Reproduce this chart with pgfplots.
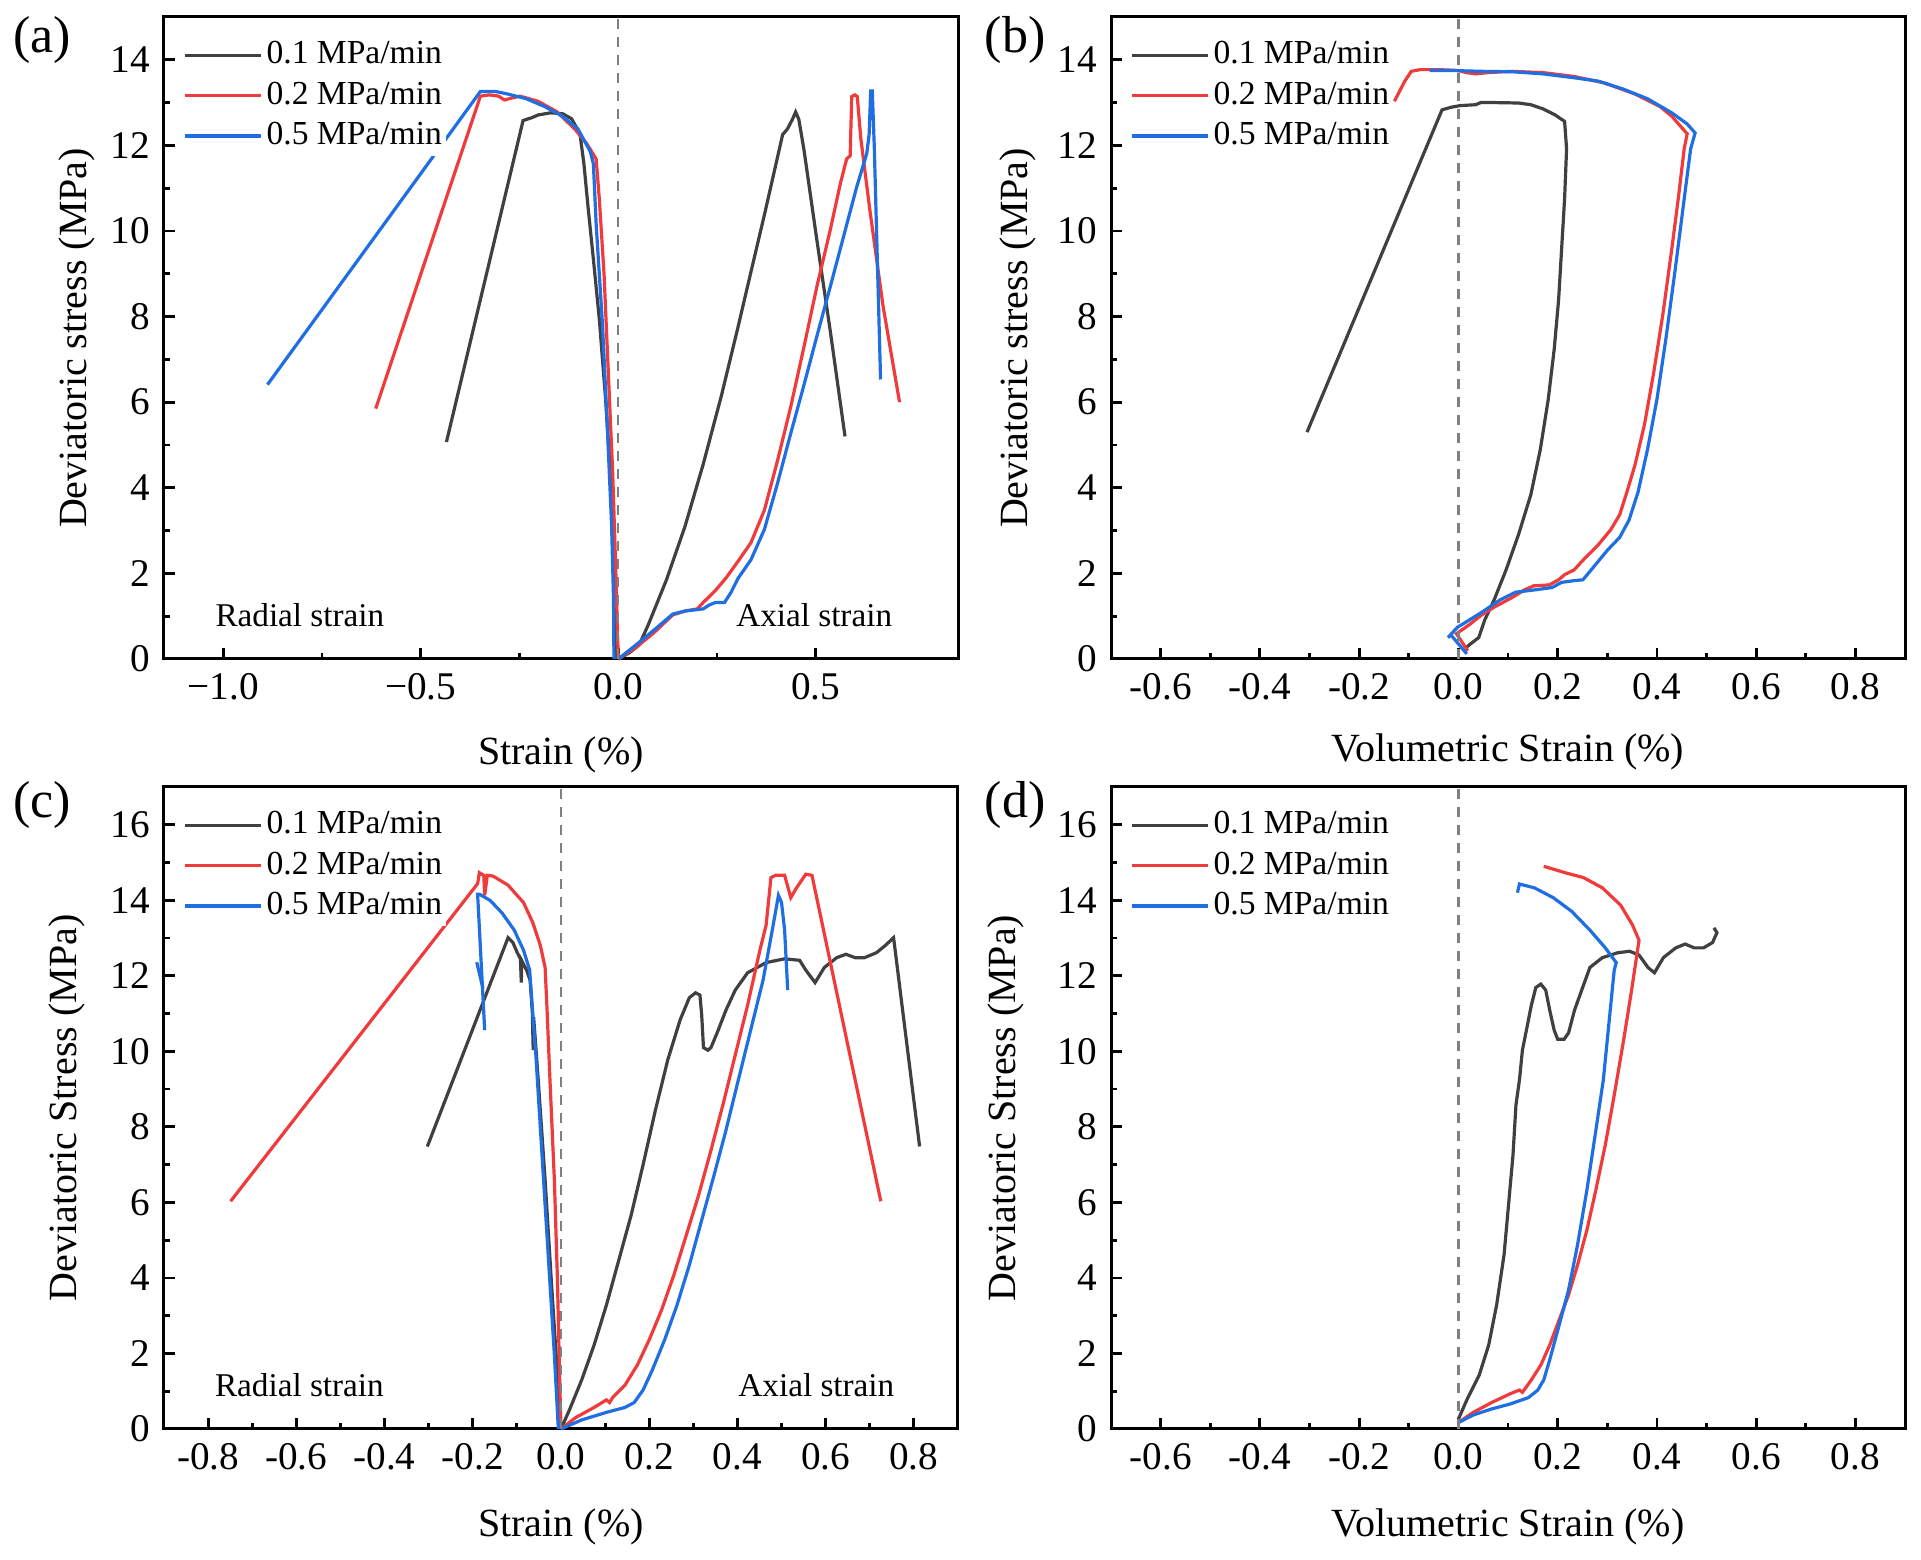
\documentclass[border=0pt]{standalone}
\usepackage{fontspec}
\setmainfont{Liberation Serif}
\usepackage{pgfplots}
\pgfplotsset{compat=1.18}
\definecolor{cblack}{HTML}{404040}
\definecolor{cred}{HTML}{EF3B3B}
\definecolor{cblue}{HTML}{1F6FE3}
\definecolor{cdash}{HTML}{808080}
\pgfplotsset{
 panel/.style={
  scale only axis, width=198.5pt, height=160.5pt, anchor=south west,
  tick pos=left, tick align=inside, major tick length=2.8pt, minor tick length=1.6pt,
  axis line style={line width=0.75pt},
  every tick/.style={black, line width=0.7pt},
  minor x tick num=1, minor y tick num=1,
  ymin=0,
  tick label style={font=\fontsize{9.8}{12}\selectfont},
  label style={font=\fontsize{10.7}{13}\selectfont},
  /pgf/number format/assume math mode=true,
  legend style={draw=none, fill=white, inner sep=0pt, outer sep=0pt,
    font=\fontsize{8.4}{10}\selectfont, at={(axis description cs:0.0244,0.972)}, anchor=north west,
    nodes={inner sep=1pt, text height=6.2pt, text depth=1.9pt}, column sep=0pt, row sep=0pt},
  legend cell align=left,
  legend image code/.code={\draw[#1] (0pt,0pt) -- (19pt,0pt);},
  every axis plot/.append style={line width=0.8pt},
  clip=false,
 },
 xlab/.style={every axis x label/.style={at={(axis description cs:0.5,#1)}, anchor=center}},
 ylab/.style={every axis y label/.style={at={(axis description cs:#1,0.5)}, rotate=90, anchor=center}},
}
\begin{document}
\begin{tikzpicture}
\useasboundingbox (0,0) rectangle (480.25pt,390pt);
% ---------------- (a)
\begin{axis}[panel, at={(41pt,225.25pt)}, xmin=-1.15, xmax=0.86, ymax=15,
  xtick={-1,-0.5,0,0.5}, xticklabels={−1.0,−0.5,0.0,0.5}, ytick={0,2,...,14},
  xlabel={Strain (\%)}, ylabel={Deviatoric stress (MPa)}, xlab=-0.150, ylab=-0.110]
\addplot[cblack] coordinates {(-0.435,5.07) (-0.241,12.58) (-0.218,12.65) (-0.203,12.71) (-0.172,12.76) (-0.141,12.74) (-0.118,12.62) (-0.097,12.27) (-0.087,11.57) (-0.076,10.51) (-0.063,9.34) (-0.048,7.94) (-0.032,6.06) (-0.020,4.31) (-0.012,2.55) (-0.008,0.8) (-0.005,0)};
\addplot[cred] coordinates {(-0.614,5.85) (-0.349,13.15) (-0.326,13.18) (-0.303,13.15) (-0.288,13.06) (-0.272,13.10) (-0.249,13.15) (-0.203,13.03) (-0.156,12.79) (-0.110,12.38) (-0.079,12.03) (-0.056,11.68) (-0.048,10.75) (-0.036,8.99) (-0.025,6.65) (-0.014,4.31) (-0.006,1.97) (0,0)};
\addplot[cblue] coordinates {(-0.888,6.41) (-0.349,13.26) (-0.311,13.26) (-0.280,13.20) (-0.233,13.09) (-0.187,12.91) (-0.141,12.68) (-0.102,12.38) (-0.071,11.86) (-0.063,11.57) (-0.056,10.16) (-0.040,7.82) (-0.028,5.48) (-0.017,3.14) (-0.012,1.38) (-0.011,0)};
\addplot[cblack, forget plot] coordinates {(0,0) (0.029,0.15) (0.053,0.33) (0.076,0.8) (0.122,1.85) (0.169,3.10) (0.215,4.55) (0.261,6.15) (0.303,7.75) (0.336,9.05) (0.370,10.38) (0.403,11.72) (0.416,12.25) (0.428,12.38) (0.441,12.61) (0.449,12.78) (0.457,12.61) (0.470,11.90) (0.503,9.77) (0.537,7.64) (0.574,5.20)};
\addplot[cred, forget plot] coordinates {(0,0) (0.045,0.27) (0.091,0.62) (0.138,1.03) (0.169,1.12) (0.2,1.17) (0.215,1.32) (0.246,1.60) (0.275,1.92) (0.303,2.28) (0.336,2.72) (0.370,3.48) (0.403,4.63) (0.436,5.87) (0.470,7.29) (0.503,8.71) (0.537,10.04) (0.562,11.10) (0.578,11.68) (0.587,11.76) (0.591,13.14) (0.599,13.18) (0.605,13.14) (0.614,12.16) (0.637,10.48) (0.670,8.26) (0.712,6.00)};
\addplot[cblue, forget plot] coordinates {(0,0) (0.045,0.33) (0.091,0.68) (0.138,1.05) (0.169,1.12) (0.215,1.17) (0.230,1.26) (0.246,1.32) (0.269,1.32) (0.285,1.55) (0.303,1.88) (0.336,2.32) (0.370,3.03) (0.403,4.10) (0.436,5.25) (0.470,6.40) (0.503,7.55) (0.537,8.71) (0.570,9.86) (0.603,11.01) (0.629,11.81) (0.635,12.25) (0.639,13.27) (0.643,13.27) (0.648,11.99) (0.655,9.59) (0.664,6.53)};
\draw[cdash, line width=0.6pt, dash pattern=on 2.5pt off 2pt] (axis cs:0,0) -- (axis cs:0,15);
\node[font=\fontsize{8.3}{10}\selectfont] at (axis cs:-0.806,1.03) {Radial strain};
\node[font=\fontsize{8.3}{10}\selectfont] at (axis cs:0.496,1.03) {Axial strain};
\legend{0.1 MPa/min, 0.2 MPa/min, 0.5 MPa/min}
\end{axis}
% ---------------- (b)
\begin{axis}[panel, at={(277.75pt,225.25pt)}, xmin=-0.7, xmax=0.9, ymax=15,
  xtick={-0.6,-0.4,...,0.81}, xticklabels={-0.6,-0.4,-0.2,0.0,0.2,0.4,0.6,0.8}, ytick={0,2,...,14},
  xlabel={Volumetric Strain (\%)}, ylabel={Deviatoric stress (MPa)}, xlab=-0.145, ylab=-0.117]
\addplot[cblack] coordinates {(-0.305,5.30) (-0.033,12.83) (-0.015,12.89) (0.004,12.93) (0.035,12.95) (0.045,13.0) (0.072,13.0) (0.121,12.99) (0.146,12.95) (0.171,12.85) (0.195,12.71) (0.214,12.56) (0.218,11.92) (0.214,10.75) (0.208,9.58) (0.202,8.40) (0.193,7.23) (0.181,6.06) (0.165,4.89) (0.146,3.84) (0.121,2.90) (0.096,2.08) (0.072,1.38) (0.053,0.91) (0.041,0.50) (0.032,0.42) (0.022,0.33) (0.016,0.27)};
\addplot[cred] coordinates {(0.019,0.19) (-0.004,0.59) (0.022,0.80) (0.047,1.03) (0.072,1.21) (0.109,1.44) (0.134,1.62) (0.152,1.71) (0.183,1.73) (0.202,1.85) (0.214,1.97) (0.233,2.08) (0.257,2.38) (0.282,2.67) (0.307,3.02) (0.325,3.37) (0.338,3.84) (0.356,4.54) (0.375,5.48) (0.393,6.65) (0.412,8.05) (0.430,9.58) (0.443,10.75) (0.455,11.92) (0.461,12.27) (0.430,12.68) (0.406,12.91) (0.356,13.20) (0.294,13.46) (0.233,13.61) (0.171,13.70) (0.109,13.73) (0.059,13.70) (0.035,13.67) (0.016,13.70) (0,13.75) (-0.040,13.77) (-0.077,13.77) (-0.095,13.73) (-0.108,13.50) (-0.129,13.03)};
\addplot[cblue] coordinates {(0.017,0.12) (-0.015,0.56) (-0.021,0.50) (-0.002,0.74) (0.022,0.91) (0.047,1.09) (0.084,1.38) (0.115,1.56) (0.158,1.62) (0.189,1.67) (0.208,1.79) (0.233,1.83) (0.251,1.85) (0.276,2.20) (0.301,2.55) (0.325,2.84) (0.344,3.25) (0.362,3.90) (0.381,4.89) (0.400,6.06) (0.418,7.47) (0.437,9.11) (0.455,10.75) (0.468,11.92) (0.477,12.29) (0.461,12.50) (0.430,12.76) (0.381,13.09) (0.331,13.32) (0.282,13.50) (0.233,13.58) (0.171,13.67) (0.109,13.72) (0.047,13.73) (-0.015,13.75) (-0.058,13.75)};
\draw[cdash, line width=0.6pt, dash pattern=on 2.5pt off 2pt] (axis cs:0,0) -- (axis cs:0,15);
\legend{0.1 MPa/min, 0.2 MPa/min, 0.5 MPa/min}
\end{axis}
% ---------------- (c)
\begin{axis}[panel, at={(41pt,32.75pt)}, xmin=-0.9, xmax=0.9, ymax=17,
  xtick={-0.8,-0.6,...,0.81}, xticklabels={-0.8,-0.6,-0.4,-0.2,0.0,0.2,0.4,0.6,0.8}, ytick={0,2,...,16},
  xlabel={Strain (\%)}, ylabel={Deviatoric Stress (MPa)}, xlab=-0.153, ylab=-0.122]
\addplot[cblack] coordinates {(-0.303,7.48) (-0.120,13.01) (-0.109,12.88) (-0.099,12.61) (-0.092,12.45) (-0.090,11.82) (-0.089,12.40) (-0.078,12.15) (-0.070,11.88) (-0.065,11.05) (-0.063,10.03) (-0.062,10.90) (-0.055,9.80) (-0.050,8.97) (-0.036,6.59) (-0.022,3.94) (-0.011,1.96) (-0.003,0)};
\addplot[cred] coordinates {(-0.749,6.03) (-0.189,14.44) (-0.185,14.73) (-0.175,14.66) (-0.173,14.13) (-0.167,14.66) (-0.154,14.64) (-0.120,14.40) (-0.085,13.94) (-0.064,13.41) (-0.047,12.81) (-0.036,12.22) (-0.032,11.22) (-0.025,9.24) (-0.015,6.59) (-0.008,3.94) (-0.003,1.30) (0,0)};
\addplot[cblue] coordinates {(-0.173,10.56) (-0.189,14.16) (-0.185,14.16) (-0.161,14.0) (-0.134,13.67) (-0.106,13.21) (-0.085,12.68) (-0.071,12.15) (-0.067,11.49) (-0.057,9.90) (-0.043,7.25) (-0.029,4.61) (-0.015,1.96) (-0.006,0)};
\addplot[cblue, forget plot] coordinates {(-0.191,12.36) (-0.177,11.67)};
\addplot[cblack, forget plot] coordinates {(0,0) (0.019,0.50) (0.047,1.30) (0.075,2.22) (0.103,3.28) (0.131,4.47) (0.159,5.66) (0.186,6.99) (0.214,8.44) (0.242,9.77) (0.270,10.83) (0.291,11.42) (0.305,11.55) (0.315,11.49) (0.319,10.96) (0.323,10.10) (0.333,10.03) (0.340,10.10) (0.354,10.49) (0.374,11.09) (0.395,11.62) (0.423,12.08) (0.465,12.35) (0.507,12.45) (0.541,12.41) (0.555,12.15) (0.576,11.82) (0.597,12.22) (0.625,12.48) (0.646,12.57) (0.667,12.48) (0.688,12.48) (0.715,12.61) (0.736,12.81) (0.754,13.01) (0.813,7.48)};
\addplot[cred, forget plot] coordinates {(0,0) (0.033,0.30) (0.075,0.57) (0.103,0.77) (0.110,0.70) (0.117,0.83) (0.145,1.16) (0.173,1.69) (0.200,2.36) (0.228,3.15) (0.256,4.08) (0.284,5.13) (0.312,6.19) (0.340,7.38) (0.367,8.58) (0.395,9.90) (0.423,11.22) (0.451,12.68) (0.465,13.34) (0.476,14.60) (0.486,14.66) (0.507,14.66) (0.521,14.07) (0.534,14.33) (0.555,14.69) (0.569,14.66) (0.725,6.03)};
\addplot[cblue, forget plot] coordinates {(0,0) (0.047,0.24) (0.103,0.44) (0.145,0.57) (0.166,0.70) (0.186,1.03) (0.207,1.56) (0.235,2.36) (0.263,3.28) (0.291,4.34) (0.319,5.53) (0.347,6.72) (0.374,7.91) (0.402,9.24) (0.430,10.56) (0.458,11.88) (0.479,13.21) (0.493,14.13) (0.500,13.94) (0.507,13.21) (0.514,11.62)};
\draw[cdash, line width=0.6pt, dash pattern=on 2.5pt off 2pt] (axis cs:0,0) -- (axis cs:0,17);
\node[font=\fontsize{8.3}{10}\selectfont] at (axis cs:-0.593,1.16) {Radial strain};
\node[font=\fontsize{8.3}{10}\selectfont] at (axis cs:0.579,1.16) {Axial strain};
\legend{0.1 MPa/min, 0.2 MPa/min, 0.5 MPa/min}
\end{axis}
% ---------------- (d)
\begin{axis}[panel, at={(277.75pt,32.75pt)}, xmin=-0.7, xmax=0.9, ymax=17,
  xtick={-0.6,-0.4,...,0.81}, xticklabels={-0.6,-0.4,-0.2,0.0,0.2,0.4,0.6,0.8}, ytick={0,2,...,16},
  xlabel={Volumetric Strain (\%)}, ylabel={Deviatoric Stress (MPa)}, xlab=-0.153, ylab=-0.132]
\addplot[cblack] coordinates {(0,0.26) (0.017,0.77) (0.042,1.43) (0.061,2.22) (0.077,3.28) (0.092,4.61) (0.101,5.93) (0.110,7.25) (0.116,8.58) (0.123,9.24) (0.129,10.03) (0.139,10.69) (0.147,11.22) (0.156,11.69) (0.166,11.78) (0.176,11.62) (0.184,11.09) (0.193,10.56) (0.200,10.32) (0.213,10.32) (0.222,10.49) (0.234,11.09) (0.252,11.75) (0.265,12.22) (0.290,12.48) (0.321,12.61) (0.345,12.65) (0.364,12.55) (0.382,12.22) (0.395,12.08) (0.413,12.48) (0.438,12.74) (0.457,12.84) (0.475,12.74) (0.494,12.74) (0.512,12.88) (0.521,13.14) (0.515,13.27)};
\addplot[cred] coordinates {(0,0.17) (0.030,0.44) (0.067,0.70) (0.104,0.93) (0.123,1.03) (0.129,0.97) (0.147,1.30) (0.166,1.69) (0.184,2.22) (0.203,2.89) (0.222,3.55) (0.240,4.34) (0.259,5.27) (0.277,6.33) (0.296,7.52) (0.314,8.84) (0.333,10.30) (0.349,11.62) (0.361,12.68) (0.364,12.94) (0.351,13.34) (0.327,13.87) (0.290,14.33) (0.252,14.60) (0.215,14.73) (0.172,14.90)};
\addplot[cblue] coordinates {(0,0.17) (0.030,0.37) (0.067,0.53) (0.104,0.66) (0.141,0.83) (0.160,1.03) (0.172,1.30) (0.184,1.83) (0.203,2.75) (0.222,3.68) (0.240,4.87) (0.259,6.33) (0.277,7.91) (0.292,9.24) (0.304,10.83) (0.314,12.15) (0.318,12.35) (0.296,12.74) (0.265,13.21) (0.228,13.71) (0.191,14.07) (0.153,14.33) (0.123,14.43) (0.119,14.20)};
\draw[cdash, line width=0.6pt, dash pattern=on 2.5pt off 2pt] (axis cs:0,0) -- (axis cs:0,17);
\legend{0.1 MPa/min, 0.2 MPa/min, 0.5 MPa/min}
\end{axis}
\node[font=\fontsize{13}{15}\selectfont] at (10.5pt,380pt) {(a)};
\node[font=\fontsize{13}{15}\selectfont] at (253.75pt,380pt) {(b)};
\node[font=\fontsize{13}{15}\selectfont] at (10.5pt,188.75pt) {(c)};
\node[font=\fontsize{13}{15}\selectfont] at (253.75pt,188.75pt) {(d)};
\end{tikzpicture}
\end{document}
